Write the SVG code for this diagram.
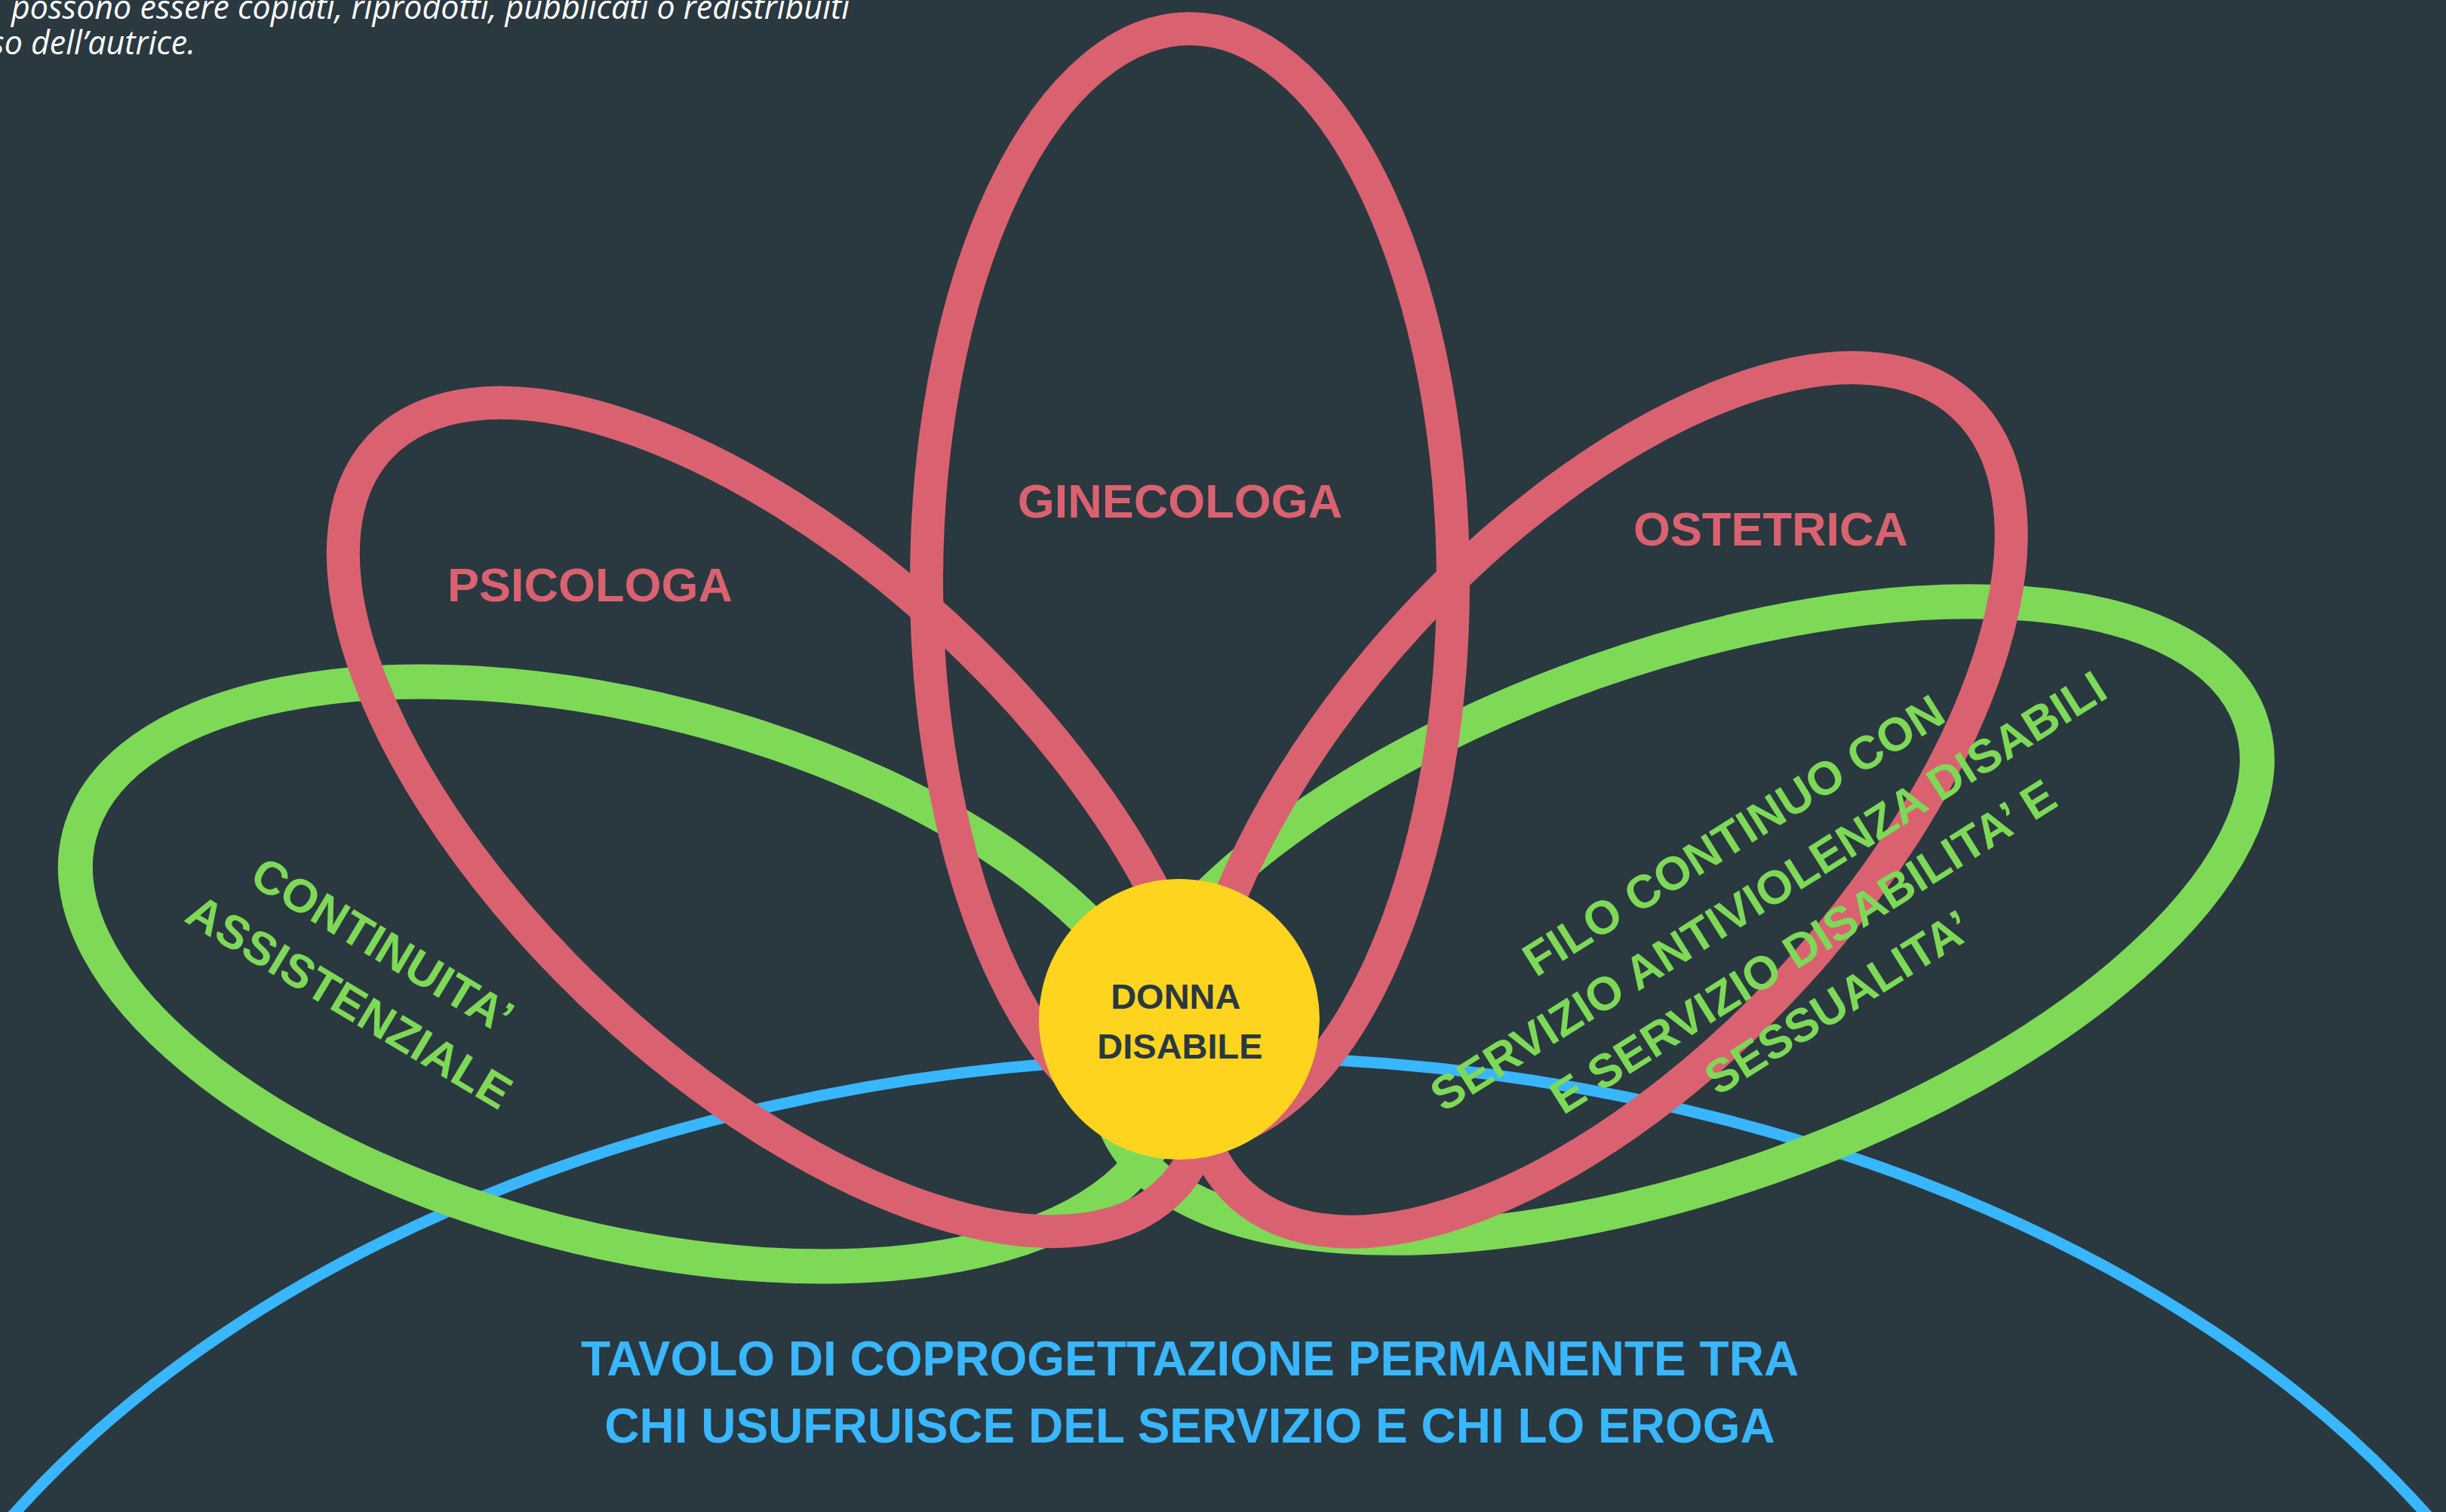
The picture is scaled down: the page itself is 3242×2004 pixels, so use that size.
<svg xmlns="http://www.w3.org/2000/svg" width="3242" height="2004" viewBox="0 0 3242 2004">
<style>
.red{fill:none;stroke:#DA6270;stroke-width:44}
.green{fill:none;stroke:#7ED957;stroke-width:46}
.blue{fill:none;stroke:#38B6FF;stroke-width:15}
.lbl-red{font-family:"Liberation Sans",Arial,sans-serif;font-weight:bold;font-size:63px;fill:#DA6270;text-anchor:middle}
.lbl-green{font-family:"Liberation Sans",Arial,sans-serif;font-weight:bold;font-size:62px;fill:#7ED957;text-anchor:middle}
.lbl-blue{font-family:"Liberation Sans",Arial,sans-serif;font-weight:bold;font-size:64px;fill:#38B6FF;text-anchor:middle}
.lbl-center{font-family:"Liberation Sans",Arial,sans-serif;font-weight:bold;font-size:47px;fill:#2A3840;text-anchor:middle;white-space:pre}
.note{font-family:"Open Sans",sans-serif;font-style:italic;font-size:43px;fill:#FFFFFF}
</style>
<rect x="0" y="0" width="3242" height="2004" fill="#2A3840"/>
<g id="note">
<text class="note" x="15" y="25">possono essere copiati, riprodotti, pubblicati o redistribuiti</text>
<text class="note" x="259" y="72" text-anchor="end">so dell’autrice.</text>
</g>
<g id="shapes">
<g id="tavolo"><ellipse class="blue" cx="1617" cy="2642" rx="1861" ry="1241"/></g>
<g id="continuita"><ellipse class="green" cx="0" cy="0" rx="743" ry="352" transform="translate(825 1291) rotate(14.35)"/></g>
<g id="filo"><ellipse class="green" cx="0" cy="0" rx="799" ry="348" transform="translate(2229 1219) rotate(-19.35)"/></g>
<g id="psicologa"><ellipse class="red" cx="0" cy="0" rx="719" ry="338" transform="translate(1029 1083) rotate(43)"/></g>
<g id="ginecologa"><ellipse class="red" cx="1577" cy="772" rx="349" ry="734"/></g>
<g id="ostetrica"><ellipse class="red" cx="0" cy="0" rx="709" ry="346" transform="translate(2123 1060) rotate(-47.5)"/></g>
<g id="donna"><circle cx="1563" cy="1351" r="186" fill="#FFD41F"/>
<text class="lbl-center" x="1564" y="1337">DONNA </text>
<text class="lbl-center" x="1564" y="1403">DISABILE</text></g>
</g>
<g id="labels">
<text id="label-psicologa" class="lbl-red" x="782" y="797">PSICOLOGA</text>
<text id="label-ginecologa" class="lbl-red" x="1564" y="686">GINECOLOGA</text>
<text id="label-ostetrica" class="lbl-red" x="2347" y="723">OSTETRICA</text>
<g id="label-continuita">
<text class="lbl-green" transform="translate(496 1271) rotate(31)">CONTINUITA’</text>
<text class="lbl-green" transform="translate(452 1346) rotate(31)">ASSISTENZIALE</text>
</g>
<g id="label-filo" transform="translate(2378 1236) rotate(-32)">
<text class="lbl-green" x="0" y="-130.5">FILO CONTINUO CON</text>
<text class="lbl-green" x="0" y="-43.5">SERVIZIO ANTIVIOLENZA DISABILI</text>
<text class="lbl-green" x="0" y="43.5">E SERVIZIO DISABILITA’ E</text>
<text class="lbl-green" x="0" y="130.5">SESSUALITA’</text>
</g>
<g id="label-tavolo">
<text class="lbl-blue" x="1577" y="1823">TAVOLO DI COPROGETTAZIONE PERMANENTE TRA</text>
<text class="lbl-blue" x="1577" y="1912">CHI USUFRUISCE DEL SERVIZIO E CHI LO EROGA</text>
</g>
</g>
</svg>
